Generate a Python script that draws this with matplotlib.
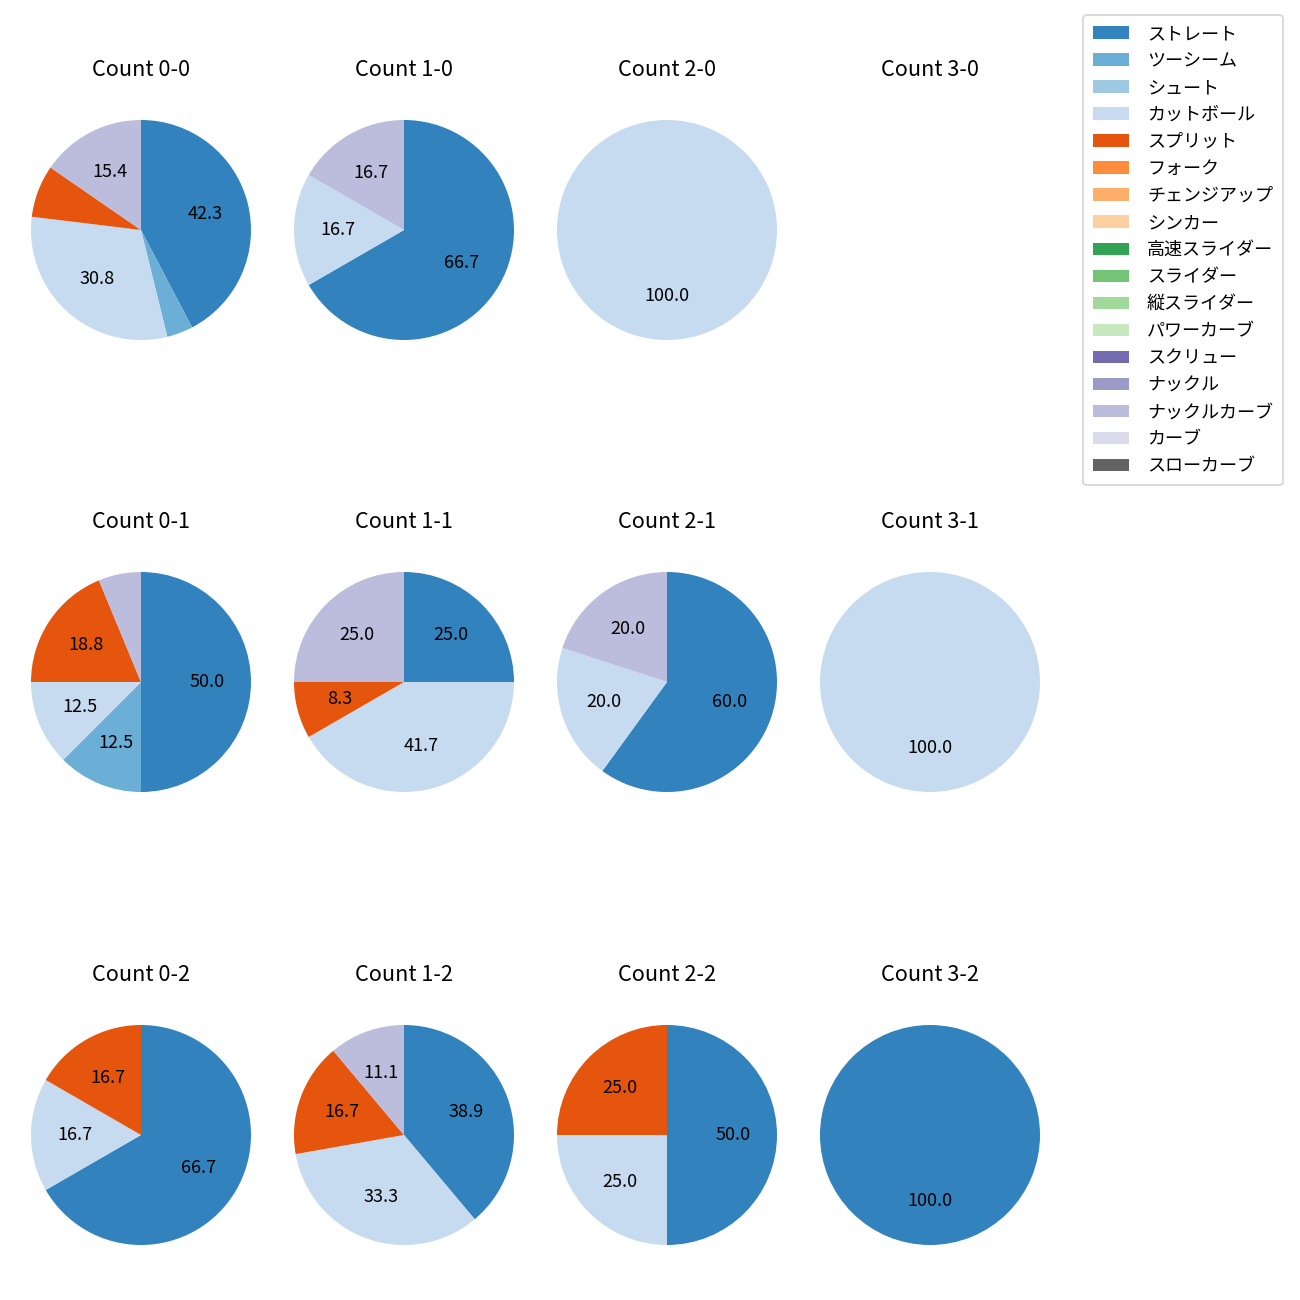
import matplotlib
matplotlib.use("Agg")
import matplotlib.pyplot as plt
from matplotlib.patches import Patch

plt.rcParams['font.family'] = ['Noto Sans CJK JP', 'DejaVu Sans']

# pitch types in legend order (tab20c colours follow this order)
pitch_types = ['ストレート', 'ツーシーム', 'シュート', 'カットボール', 'スプリット',
               'フォーク', 'チェンジアップ', 'シンカー', '高速スライダー', 'スライダー',
               '縦スライダー', 'パワーカーブ', 'スクリュー', 'ナックル', 'ナックルカーブ',
               'カーブ', 'スローカーブ']

# pitch counts per ball-strike count (only non-zero types listed)
count_0_0 = {'ストレート': 11, 'ツーシーム': 1, 'カットボール': 8, 'スプリット': 2, 'ナックルカーブ': 4}
count_1_0 = {'ストレート': 4, 'カットボール': 1, 'ナックルカーブ': 1}
count_2_0 = {'カットボール': 1}
count_3_0 = {}
count_0_1 = {'ストレート': 8, 'ツーシーム': 2, 'カットボール': 2, 'スプリット': 3, 'ナックルカーブ': 1}
count_1_1 = {'ストレート': 3, 'カットボール': 5, 'スプリット': 1, 'ナックルカーブ': 3}
count_2_1 = {'ストレート': 3, 'カットボール': 1, 'ナックルカーブ': 1}
count_3_1 = {'カットボール': 1}
count_0_2 = {'ストレート': 4, 'カットボール': 1, 'スプリット': 1}
count_1_2 = {'ストレート': 7, 'カットボール': 6, 'スプリット': 3, 'ナックルカーブ': 2}
count_2_2 = {'ストレート': 2, 'カットボール': 1, 'スプリット': 1}
count_3_2 = {'ストレート': 1}

grid = [
    [('0-0', count_0_0), ('1-0', count_1_0), ('2-0', count_2_0), ('3-0', count_3_0)],
    [('0-1', count_0_1), ('1-1', count_1_1), ('2-1', count_2_1), ('3-1', count_3_1)],
    [('0-2', count_0_2), ('1-2', count_1_2), ('2-2', count_2_2), ('3-2', count_3_2)],
]

cmap = plt.get_cmap('tab20c')
colors = {p: cmap(i) for i, p in enumerate(pitch_types)}

W, H = 1300, 1300
fig = plt.figure(figsize=(10, 10), dpi=130)

col_x = [141, 404, 667, 930]
row_y = [230, 682, 1135]
size = 275  # axes side in px (pie radius = size / 2.5)


def fmt(p):
    return f'{p:.1f}' if p >= 8 else ''


for r, row in enumerate(grid):
    for c, (name, data) in enumerate(row):
        cx, cy = col_x[c], row_y[r]
        ax = fig.add_axes([(cx - size / 2) / W, 1 - (cy + size / 2) / H, size / W, size / H])
        labels = [p for p in pitch_types if p in data]
        values = [data[p] for p in labels]
        if values:
            ax.pie(values, colors=[colors[p] for p in labels], autopct=fmt,
                   startangle=90, counterclock=False, textprops={'fontsize': 10})
        else:
            ax.set_xlim(-1.25, 1.25)
            ax.set_ylim(-1.25, 1.25)
            ax.set_aspect('equal')
        ax.axis('off')
        ax.set_title(f'Count {name}', fontsize=12, pad=9)

handles = [Patch(facecolor=colors[p], label=p) for p in pitch_types]
fig.legend(handles=handles, loc='upper right', bbox_to_anchor=(1283 / W, 1 - 15 / H),
           borderaxespad=0, fontsize=10, handletextpad=1.0, borderpad=0.55)

fig.savefig('out.png', dpi=130)
